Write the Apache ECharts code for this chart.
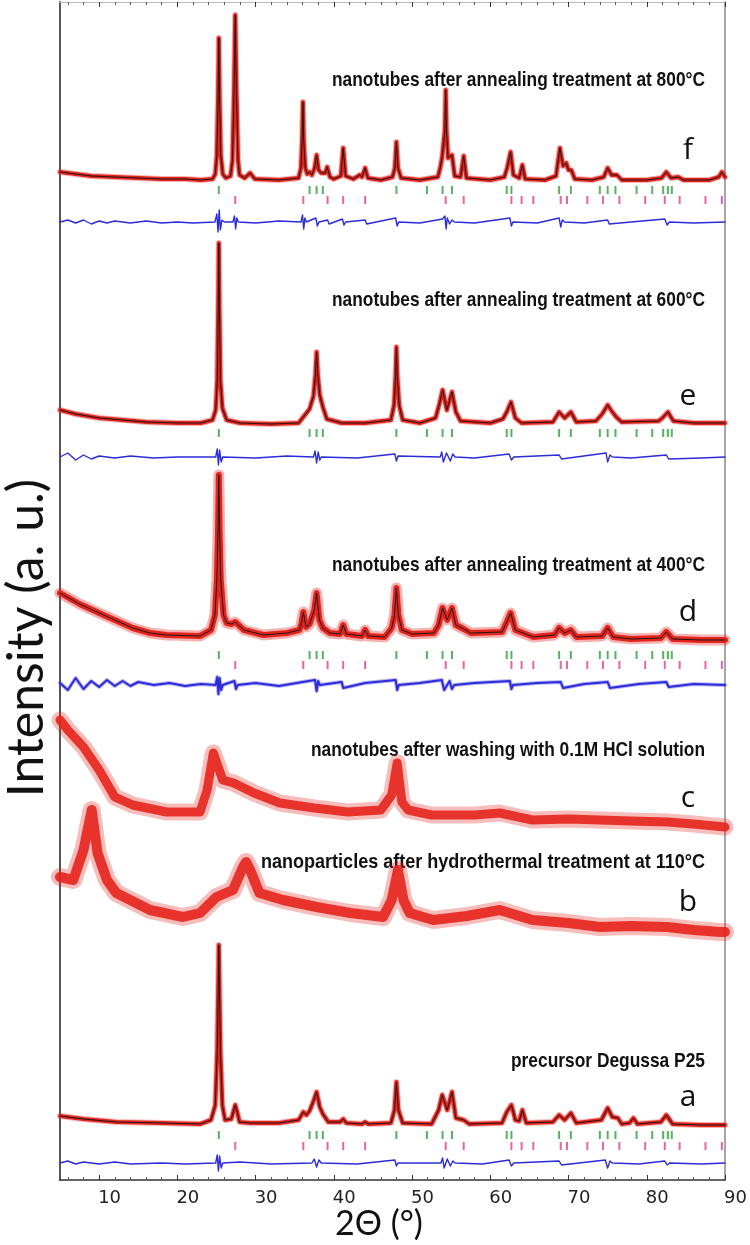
<!DOCTYPE html>
<html><head><meta charset="utf-8">
<script src="https://cdn.jsdelivr.net/npm/echarts@6/dist/echarts.min.js"></script>
<style>html,body{margin:0;padding:0;background:#fff}#c{width:750px;height:1245px}</style>
</head><body><div id="c"></div>
<script>
// ---------- DATA ----------
const xTickLabels = [10, 20, 30, 40, 50, 60, 70, 80, 90];
const xMinorTicks = [6, 8, 12, 14, 16, 18, 22, 24, 26, 28, 32, 34, 36, 38, 42, 44, 46, 48, 52, 54, 56, 58, 62, 64, 66, 68, 72, 74, 76, 78, 82, 84, 86, 88];

// Bragg reflection positions (2θ)
const anataseTicks = [25.3, 36.9, 37.8, 38.6, 48.0, 51.9, 53.9, 55.1, 62.1, 62.7, 68.8, 70.3, 74.0, 75.0, 76.0, 78.7, 80.7, 82.1, 82.7, 83.2];
const rutileTicks = [27.4, 36.1, 39.2, 41.2, 44.0, 54.3, 56.6, 62.7, 64.0, 65.5, 69.0, 69.8, 72.4, 74.4, 76.5, 79.8, 82.3, 84.2, 87.5, 89.6];

// pattern f : 800°C
const patF = [[5,1008],[7,1006],[9,1004],[12,1003],[15,1002],[18,1001],[21,1001],[23,1000],[24.5,1001],[24.85,1006],[25.05,1025],[25.2,1080],[25.3,1142],[25.4,1080],[25.55,1025],[25.8,1006],[26.2,1002],[26.8,1004],[27.05,1020],[27.25,1090],[27.4,1165],[27.55,1090],[27.75,1020],[27.95,1005],[28.6,1002],[29.3,1007],[29.9,1001],[33,1000],[35.5,1002],[35.8,1012],[35.95,1040],[36.05,1078],[36.15,1040],[36.35,1012],[36.6,1006],[36.9,1008],[37.2,1005],[37.55,1012],[37.8,1025],[38.05,1010],[38.4,1007],[38.65,1009],[38.9,1007],[39.15,1013],[39.5,1003],[40,1001],[40.9,1004],[41.2,1032],[41.5,1004],[42.5,1001],[43.3,1005],[43.6,1003],[44.0,1012],[44.35,1002],[46,1000],[47.5,1003],[47.8,1012],[48.0,1038],[48.2,1012],[48.6,1002],[51,1000],[53.3,1003],[53.6,1012],[53.85,1023],[54.05,1022],[54.2,1050],[54.3,1090],[54.4,1050],[54.6,1022],[54.8,1020],[55.1,1025],[55.45,1004],[56.2,1003],[56.6,1024],[56.95,1002],[60,1000],[61.8,1003],[62.15,1012],[62.6,1028],[62.95,1005],[63.7,1002],[64.1,1015],[64.45,1001],[67,1000],[68.4,1004],[68.9,1032],[69.3,1014],[69.7,1017],[70.0,1010],[70.35,1010],[70.8,1001],[73,1000],[74.5,1003],[75.0,1012],[75.5,1005],[76.2,1005],[76.8,1000],[80,1000],[81.9,1002],[82.5,1008],[83.1,1002],[84.0,1003],[84.7,1000],[88,1000],[89.2,1003],[89.6,1008],[90,1003]];
const diffF = [[5,958],[6,960],[7,957],[8,960],[9,956],[10,959],[11,957],[12,959],[14,957],[16,959],[18,957],[20,958],[22,957],[24.8,958],[25.05,966],[25.2,948],[25.35,970],[25.5,950],[25.7,960],[26,958],[27.1,958],[27.3,964],[27.45,951],[27.6,962],[27.8,958],[30,957],[33,959],[35.8,958],[36.0,965],[36.15,951],[36.3,962],[36.5,958],[37.7,962],[37.9,954],[38.1,958],[39.2,960],[39.4,956],[41.1,961],[41.3,955],[41.5,958],[44,960],[44.2,956],[47.9,962],[48.1,954],[48.3,958],[51,957],[53.9,961],[54.2,964],[54.35,951],[54.5,962],[54.8,956],[55.1,960],[55.4,958],[58,957],[62.5,962],[62.7,954],[62.9,958],[66,957],[68.8,962],[69.0,953],[69.2,960],[69.5,958],[72,957],[75,960],[75.2,956],[78,958],[82.3,961],[82.6,955],[82.9,958],[86,957],[90,958]];

// pattern e : 600°C
const patE = [[5,770],[7,766],[10,762],[13,760],[16,758],[20,757],[23,757],[24.5,760],[24.9,770],[25.1,800],[25.22,870],[25.3,937],[25.38,870],[25.5,800],[25.75,772],[26.3,760],[28,757],[32,756],[35.5,757],[36.4,766],[36.9,771],[37.4,784],[37.65,805],[37.8,828],[37.95,805],[38.2,785],[38.6,773],[39.1,761],[41,757],[44,757],[47.3,760],[47.7,775],[47.9,805],[48.0,833],[48.1,805],[48.35,775],[48.8,760],[51,757],[53.0,762],[53.5,776],[53.9,790],[54.45,770],[55.1,788],[55.6,768],[56.2,759],[60,757],[61.6,761],[62.1,768],[62.65,778],[63.2,762],[64,757],[68,758],[68.8,768],[69.5,762],[70.3,768],[71,758],[73.5,759],[74.3,766],[75.0,775],[75.6,768],[76.1,763],[76.8,758],[81.5,759],[82.0,762],[82.7,768],[83.4,759],[86,757],[90,757]];
const diffE = [[5,723],[6,727],[7,720],[8,725],[9,721],[10,724],[12,722],[14,724],[17,722],[20,723],[24.9,723],[25.1,731],[25.25,715],[25.4,730],[25.6,718],[25.8,723],[30,722],[34,724],[37.4,723],[37.6,729],[37.8,717],[38.0,728],[38.2,720],[38.4,723],[43,722],[47.8,726],[48.0,719],[48.2,724],[53.6,723],[53.8,728],[54.0,718],[54.4,727],[54.9,719],[55.2,726],[55.5,723],[58,722],[62.4,726],[62.7,720],[63,723],[68.8,725],[69.1,721],[74.8,727],[75.0,718],[75.3,725],[75.6,723],[78,722],[82.5,725],[82.8,721],[83,723],[87,722],[90,723]];

// pattern d : 400°C
const patD = [[5,587],[7.5,576],[10,567],[12,560],[14.3,552],[16.5,547],[18.6,545],[22.9,544],[24.3,550],[24.8,565],[25.05,600],[25.2,650],[25.3,705],[25.4,650],[25.55,600],[25.9,565],[26.3,557],[26.9,556],[27.4,558],[28.5,550],[31,545],[34,547],[35.6,550],[35.85,556],[36.1,568],[36.45,553],[36.9,556],[37.5,570],[37.8,587],[38.15,560],[38.6,552],[39.5,547],[40.8,546],[41.2,555],[41.6,546],[43.6,544],[44.0,550],[44.4,544],[46.5,543],[47.4,552],[47.75,565],[48.0,592],[48.25,565],[48.7,550],[50,546],[52.8,547],[53.4,555],[53.9,572],[54.5,560],[55.1,572],[55.6,555],[56.6,551],[57.5,547],[61.5,548],[62.1,558],[62.6,567],[63.2,550],[65.5,543],[68.2,545],[68.8,552],[69.5,547],[70.3,550],[71,543],[74.3,544],[75.0,552],[75.7,543],[78,541],[81.8,542],[82.5,548],[83.3,541],[87,540],[90,540]];
const diffD = [[5,497],[6,490],[7,502],[8,491],[9,499],[10,493],[11,500],[12,494],[13,499],[14,494],[15,498],[17,495],[19,497],[21,494],[23,496],[24.9,495],[25.1,503],[25.25,486],[25.4,502],[25.6,490],[25.8,495],[27.3,499],[27.5,491],[27.7,495],[30,497],[33,494],[36,498],[37.6,500],[37.8,489],[38,499],[38.2,495],[41,498],[41.2,492],[44,497],[47.9,500],[48.1,490],[48.3,495],[51,497],[53.8,500],[54.1,490],[54.8,499],[55.1,491],[55.4,495],[58,497],[62.5,499],[62.7,491],[62.9,495],[66,497],[69,498],[69.3,492],[72,496],[75,498],[75.3,492],[79,496],[82.5,498],[82.8,493],[86,496],[90,495]];

// pattern c : washed with 0.1M HCl
const patC = [[5,460],[6,450],[8,433],[10,410],[12,383],[14.3,375],[18.6,368],[22.9,368],[23.8,390],[24.6,427],[25.8,400],[27.2,397],[29.8,387],[33.1,377],[37.5,372],[41.8,368],[46,370],[47.4,385],[48.1,417],[48.7,378],[49.5,370],[52.5,365],[58,365],[61.2,367],[65.4,360],[70,361],[74,360],[78,359],[82.6,358],[86,356],[90,353]];

// pattern b : hydrothermal 110°C
const patB = [[5,303],[6.7,300],[8.0,330],[9.05,370],[9.8,327],[11.0,300],[12.2,287],[16.5,270],[20.7,263],[22.9,267],[25.0,283],[27.1,290],[28.4,313],[28.8,318],[29.3,310],[30.5,287],[33.5,280],[37.8,273],[42.1,267],[46.3,263],[47.4,280],[48.2,310],[48.9,280],[49.7,267],[52.7,260],[57,264],[61.2,270],[65.4,260],[70,257],[74,253],[78,254],[82.6,253],[86,250],[89.4,248],[90,248]];

// pattern a : precursor Degussa P25
const patA = [[5,64],[8,61],[12.2,58],[18,57],[22.9,56],[24.3,60],[24.85,75],[25.1,130],[25.22,190],[25.3,235],[25.38,190],[25.5,130],[25.75,75],[26.1,60],[26.9,61],[27.15,68],[27.4,75],[27.65,68],[27.95,58],[29.3,57],[33,57],[35.5,60],[36.1,68],[36.5,65],[36.9,69],[37.45,80],[37.8,88],[38.2,73],[38.6,66],[39.3,58],[40.8,58],[41.2,61],[41.6,57],[43.6,56],[44.0,58],[44.4,56],[47.3,57],[47.75,70],[48.0,98],[48.25,70],[48.8,57],[52.5,56],[53.4,70],[53.85,85],[54.5,70],[55.1,88],[55.6,62],[56.6,60],[57.3,56],[61.5,57],[62.1,68],[62.7,75],[63.2,60],[63.7,59],[64.1,70],[64.6,57],[68.0,58],[68.8,65],[69.5,60],[70.3,67],[71,57],[74.2,60],[75.0,72],[75.6,63],[76.3,62],[76.8,56],[77.8,57],[78.3,62],[78.8,56],[81.8,58],[82.5,65],[83.3,56],[87,55],[90,55]];
const diffA = [[5,17],[6,19],[7,16],[8,18],[10,16],[12,18],[14,16],[18,17],[21,16],[24.9,17],[25.1,25],[25.25,9],[25.4,24],[25.6,12],[25.8,17],[28,18],[32,16],[37.2,17],[37.5,21],[37.8,13],[38.1,20],[38.4,17],[43,16],[47.8,20],[48.0,14],[48.2,17],[53.7,17],[53.9,22],[54.1,12],[54.5,21],[54.9,14],[55.2,19],[55.5,17],[59,16],[62.4,20],[62.7,14],[63,17],[68.8,19],[69.1,15],[74.7,20],[75.0,12],[75.3,19],[75.6,17],[79,16],[82.3,19],[82.6,15],[82.9,17],[87,16],[90,17]];

// Bragg tick rows (intensity level of each tick row)
const braggRowsAnatase = {f: 990, e: 747, d: 525, a: 45};
const braggRowsRutile = {f: 980, d: 515, a: 34};

const sampleLabels = [
  {text: 'nanotubes after annealing treatment at 800°C', y: 80, w: 373},
  {text: 'nanotubes after annealing treatment at 600°C', y: 300, w: 373},
  {text: 'nanotubes after annealing treatment at 400°C', y: 565, w: 373},
  {text: 'nanotubes after washing with 0.1M HCl solution', y: 750, w: 394},
  {text: 'nanoparticles after hydrothermal treatment at 110°C', y: 862, w: 444},
  {text: 'precursor Degussa P25', y: 1061, w: 194}
];
const sampleLetters = [
  {text: 'f', y: 150}, {text: 'e', y: 396}, {text: 'd', y: 612},
  {text: 'c', y: 798}, {text: 'b', y: 902}, {text: 'a', y: 1097}
];
const xName = '2Θ (°)';
const yName = 'Intensity (a. u.)';

// ---------- CHART ----------
const RED = '#e5231d', BLACK = '#1a1a1a', GREEN = '#2e9e3a', MAG = '#d9408f', BLUE = '#2b2bd9';
const chart = echarts.init(document.getElementById('c'), null, {renderer: 'canvas'});

const ctx = document.createElement('canvas').getContext('2d');
function measure(text, font) { ctx.font = font; return ctx.measureText(text).width; }

const labelFont = 'bold 21px "Liberation Sans"';
const graphics = [];
sampleLabels.forEach(l => {
  const s = l.w / measure(l.text, labelFont);
  graphics.push({type: 'text', x: 705, y: l.y, scaleX: s, silent: true,
    style: {text: l.text, font: labelFont, fill: '#111', align: 'right', verticalAlign: 'middle'}});
});
sampleLetters.forEach(l => {
  graphics.push({type: 'text', x: 688, y: l.y, silent: true,
    style: {text: l.text, font: '30px "Open Sans"', fill: '#111', align: 'center', verticalAlign: 'middle'}});
});
// axis names
const yFontSize = Math.round(44 * 317 / measure(yName, '44px Lato'));
graphics.push({type: 'text', x: 27, y: 638, rotation: Math.PI / 2, silent: true,
  style: {text: yName, font: yFontSize + 'px Lato', fill: '#111', align: 'center', verticalAlign: 'middle'}});
graphics.push({type: 'text', x: 379, y: 1224, silent: true,
  style: {text: xName, font: '34px Lato', fill: '#111', align: 'center', verticalAlign: 'middle'}});

function lineSeries(data, color, width, z, opacity) {
  return {type: 'line', data, showSymbol: false, symbol: 'none', z, silent: true,
    lineStyle: {color, width, join: 'round', cap: 'round', opacity: opacity == null ? 1 : opacity},
    xAxisIndex: 0, yAxisIndex: 0};
}
function tickSeries(positions, row, color) {
  return {type: 'scatter', data: positions.map(p => [p, row]), symbol: 'rect', symbolSize: [2, 8],
    itemStyle: {color}, silent: true, z: 2, xAxisIndex: 0, yAxisIndex: 0};
}

const series = [];
[[patF, diffF, 4], [patE, diffE, 4], [patA, diffA, 4]].forEach(([p, d, w]) => {
  series.push(lineSeries(p, RED, w + 2, 1, 0.35));
  series.push(lineSeries(p, RED, w, 2));
  series.push(lineSeries(p, BLACK, 1, 3));
  series.push(lineSeries(d, BLUE, 1.4, 2));
});
series.push(lineSeries(patD, RED, 11, 1, 0.35));
series.push(lineSeries(patD, RED, 6, 2));
series.push(lineSeries(patD, BLACK, 1, 3));
series.push(lineSeries(diffD, BLUE, 4, 1, 0.35));
series.push(lineSeries(diffD, BLUE, 2, 2));
series.push(lineSeries(patC, RED, 17, 1, 0.3));
series.push(lineSeries(patC, RED, 9, 2, 0.9));
series.push(lineSeries(patB, RED, 18, 1, 0.3));
series.push(lineSeries(patB, RED, 10, 2, 0.9));
Object.keys(braggRowsAnatase).forEach(k => series.push(tickSeries(anataseTicks, braggRowsAnatase[k], GREEN)));
Object.keys(braggRowsRutile).forEach(k => series.push(tickSeries(rutileTicks, braggRowsRutile[k], MAG)));

const baseX = {type: 'value', min: 5, max: 90, splitLine: {show: false}, gridIndex: 0};
chart.setOption({
  animation: false,
  backgroundColor: '#fff',
  grid: {left: 60, right: 25, top: 2, bottom: 65, containLabel: false},
  xAxis: [
    Object.assign({}, baseX, {position: 'bottom',
      axisLine: {show: true, lineStyle: {color: '#333', width: 1.5}},
      axisTick: {show: true, inside: true, length: 5, customValues: xTickLabels, lineStyle: {color: '#333'}},
      axisLabel: {show: true, customValues: xTickLabels, margin: 9, padding: [0, 0, 0, 21],
        fontFamily: 'DejaVu Sans', fontSize: 18, color: '#222'}}),
    Object.assign({}, baseX, {position: 'bottom', axisLine: {show: false},
      axisTick: {show: true, inside: true, length: 3, customValues: xMinorTicks, lineStyle: {color: '#555'}},
      axisLabel: {show: false, customValues: xMinorTicks}}),
    Object.assign({}, baseX, {position: 'top',
      axisLine: {show: true, lineStyle: {color: '#bbb', width: 1}},
      axisTick: {show: true, inside: true, length: 5, customValues: xTickLabels, lineStyle: {color: '#333'}},
      axisLabel: {show: false, customValues: xTickLabels}}),
    Object.assign({}, baseX, {position: 'top', axisLine: {show: false},
      axisTick: {show: true, inside: true, length: 3, customValues: xMinorTicks, lineStyle: {color: '#555'}},
      axisLabel: {show: false, customValues: xMinorTicks}})
  ],
  yAxis: [
    {type: 'value', min: 0, max: 1178, position: 'left', splitLine: {show: false},
      axisLine: {show: true, lineStyle: {color: '#555', width: 2}}, axisTick: {show: false}, axisLabel: {show: false}},
    {type: 'value', min: 0, max: 1178, position: 'right', splitLine: {show: false},
      axisLine: {show: true, lineStyle: {color: '#888', width: 1.5}}, axisTick: {show: false}, axisLabel: {show: false}}
  ],
  series,
  graphic: graphics
});
</script></body></html>
